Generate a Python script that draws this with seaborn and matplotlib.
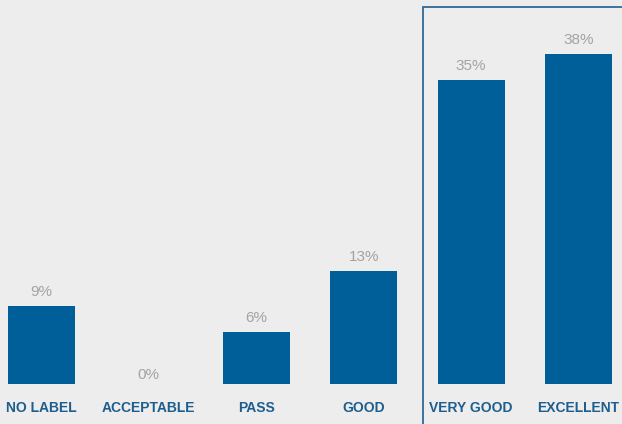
import matplotlib
matplotlib.use("Agg")
import matplotlib.pyplot as plt
import matplotlib.patches as mpatches
import seaborn as sns
import pandas as pd

categories = ["NO LABEL", "ACCEPTABLE", "PASS", "GOOD", "VERY GOOD", "EXCELLENT"]
shares = [9, 0, 6, 13, 35, 38]

BG = "#ecedec"
BAR = "#005f99"
LABEL_BLUE = "#1d5e8e"
VALUE_GREY = "#a3a3a3"

sns.set_theme(style="white")
plt.rcParams["font.family"] = ["Liberation Sans", "DejaVu Sans"]

df = pd.DataFrame({"category": categories, "share": shares})

fig = plt.figure(figsize=(6.22, 4.24), dpi=100, facecolor=BG)
ax = fig.add_axes([0, 0, 1, 1])
ax.set_facecolor(BG)

sns.barplot(data=df, x="category", y="share", color=BAR, width=0.624,
            saturation=1, linewidth=0, ax=ax)

ax.set_xlim(-0.386, 5.405)
ax.set_ylim(-4.6, 44.2)

for i, v in enumerate(shares):
    ax.annotate(f"{v}%", (i, v), xytext=(0, 5 if v else 1.5),
                textcoords="offset points", ha="center", va="bottom",
                fontsize=11, color=VALUE_GREY)
    ax.text(i, -2.72, categories[i], ha="center", va="center", fontsize=10,
            fontweight="bold", color=LABEL_BLUE)

# frame around the top two categories
ax.add_patch(mpatches.Rectangle((3.552, -10), 5, 53.4, fill=False,
                                edgecolor="#2f6a98", linewidth=1.3,
                                clip_on=True))

for s in ax.spines.values():
    s.set_visible(False)
ax.set_xticks([])
ax.set_yticks([])
ax.set_xlabel("")
ax.set_ylabel("")

fig.savefig("out.png", dpi=100, facecolor=BG)
